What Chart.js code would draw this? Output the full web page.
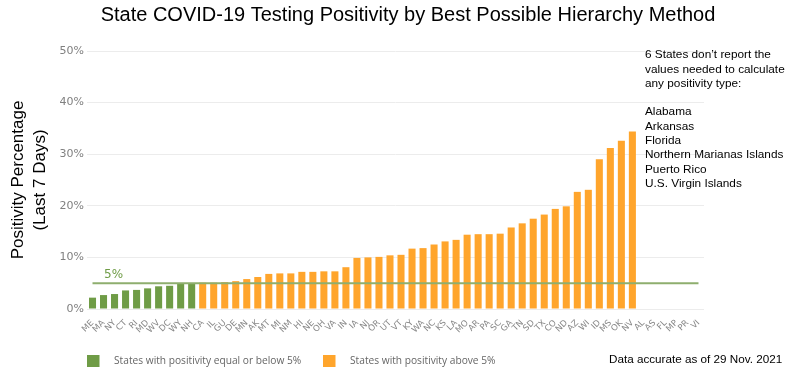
<!DOCTYPE html>
<html>
<head>
<meta charset="utf-8">
<script src="https://cdn.jsdelivr.net/npm/chart.js@4.4.0/dist/chart.umd.min.js"></script>
<style>
  html, body { margin: 0; padding: 0; background: #fff; }
</style>
</head>
<body>
<canvas id="chart" width="800" height="376"></canvas>
<script>
let states = ["ME", "MA", "NY", "CT", "RI", "MD", "WV", "DC", "WY", "NH",
    "CA", "IL", "GU", "DE", "MN", "AK", "MT", "MI", "NM", "HI",
    "NE", "OH", "VA", "IN", "IA", "NJ", "OR", "UT", "VT", "KY",
    "WA", "NC", "KS", "LA", "MO", "AR", "PA", "SC", "GA", "TN",
    "SD", "TX", "CO", "ND", "AZ", "WI", "ID", "MS", "OK", "NV",
    "AL", "AS", "FL", "MP", "PR", "VI"]

// positivity in percent, null = no bar in that group
let low_values = [2.2, 2.7, 2.9, 3.6, 3.7, 4.0, 4.4, 4.5, 4.9, 5.0]
let high_values = [5.1, 5.1, 5.2, 5.4, 5.8, 6.2, 6.8, 6.9, 6.9, 7.2,
    7.2, 7.3, 7.3, 8.1, 9.9, 10.0, 10.1, 10.4, 10.5, 11.7,
    11.8, 12.5, 13.1, 13.4, 14.4, 14.5, 14.5, 14.6, 15.8, 16.6,
    17.5, 18.3, 19.4, 19.9, 22.7, 23.1, 29.0, 31.2, 32.6, 34.4]
let no_report = ["Alabama", "Arkansas", "Florida", "Northern Marianas Islands", "Puerto Rico", "U.S. Virgin Islands"]
let threshold = 5
let y_ticks = [0, 10, 20, 30, 40, 50]

let green = "#6f9c46"
let orange = "#ffa52c"

// build per-category series for the two groups
let low_series = []
let high_series = []
for (let i = 0; i < states.length; i++) {
    if (i < low_values.length) {
        low_series.push(low_values[i])
        high_series.push(null)
    } else if (i < low_values.length + high_values.length) {
        low_series.push(null)
        high_series.push(high_values[i - low_values.length])
    } else {
        low_series.push(null)
        high_series.push(null)
    }
}
let threshold_series = states.map(() => threshold)

let extras = {
    id: "extras",
    afterDraw(chart) {
        let ctx = chart.ctx
        let y = chart.scales.y
        ctx.save()

        // 5% label above the threshold line
        ctx.fillStyle = green
        ctx.font = "12px 'DejaVu Sans'"
        ctx.textBaseline = "middle"
        ctx.textAlign = "left"
        ctx.fillText("5%", 104, y.getPixelForValue(threshold) - 8)

        // note on the right
        ctx.fillStyle = "#000"
        ctx.font = "11.8px 'Liberation Sans'"
        let note = ["6 States don\u2019t report the", "values needed to calculate", "any positivity type:", ""].concat(no_report)
        for (let i = 0; i < note.length; i++) {
            ctx.fillText(note[i], 645, 55 + i * 14.3)
        }

        // legend
        ctx.fillStyle = green
        ctx.fillRect(87, 355, 12.5, 12)
        ctx.fillStyle = orange
        ctx.fillRect(323, 355, 12.5, 12)
        ctx.fillStyle = "#666"
        ctx.font = "10.2px 'Open Sans'"
        ctx.fillText("States with positivity equal or below 5%", 114, 361)
        ctx.fillText("States with positivity above 5%", 350, 361)

        ctx.fillStyle = "#000"
        ctx.font = "11.7px 'Liberation Sans'"
        ctx.fillText("Data accurate as of 29 Nov. 2021", 609, 360)
        ctx.restore()
    }
}

new Chart("chart", {
    type: "bar",
    data: {
        labels: states,
        datasets: [{
            label: "States with positivity equal or below 5%",
            data: low_series,
            backgroundColor: green,
            grouped: false,
            order: 2
        }, {
            label: "States with positivity above 5%",
            data: high_series,
            backgroundColor: orange,
            grouped: false,
            order: 2
        }, {
            type: "line",
            label: "5%",
            data: threshold_series,
            borderColor: "#8eae6e",
            borderWidth: 2,
            pointRadius: 0,
            fill: false,
            order: 1
        }]
    },
    options: {
        responsive: false,
        animation: false,
        maintainAspectRatio: false,
        devicePixelRatio: 1,
        barPercentage: 0.64,
        categoryPercentage: 1,
        layout: { padding: { left: 16, right: 0, top: 0, bottom: 0 } },
        plugins: {
            legend: { display: false },
            tooltip: { enabled: false },
            title: {
                display: true,
                text: "State COVID-19 Testing Positivity by Best Possible Hierarchy Method",
                color: "#000",
                font: { family: "'Liberation Sans'", size: 20, weight: "normal", lineHeight: 1.2 },
                padding: { top: 3, bottom: 24 }
            }
        },
        scales: {
            x: {
                grid: { display: false },
                border: { display: false },
                ticks: {
                    autoSkip: false,
                    minRotation: 45,
                    maxRotation: 45,
                    padding: 1,
                    color: "#888",
                    font: { family: "'DejaVu Sans'", size: 8.5 }
                },
                afterFit(scale) { scale.height = 67 }
            },
            y: {
                min: 0,
                max: 50,
                afterBuildTicks(scale) { scale.ticks = y_ticks.map(v => ({ value: v })) },
                grid: { color: "#ececec", drawTicks: false },
                border: { display: false },
                ticks: {
                    padding: 3,
                    color: "#808080",
                    font: { family: "'DejaVu Sans'", size: 11 },
                    callback: v => v + "%"
                },
                title: {
                    display: true,
                    text: ["Positivity Percentage", "(Last 7 Days)"],
                    color: "#000",
                    font: { family: "'Liberation Sans'", size: 17, lineHeight: 1.3 },
                    padding: { top: -9, bottom: 0 }
                },
                afterFit(scale) { scale.width = 71 }
            },
            // empty right-hand axis that keeps room for the note
            side: {
                type: "linear",
                position: "right",
                grid: { display: false },
                border: { display: false },
                ticks: { display: false },
                afterFit(scale) { scale.width = 96 }
            }
        }
    },
    plugins: [extras]
})
</script>
</body>
</html>
